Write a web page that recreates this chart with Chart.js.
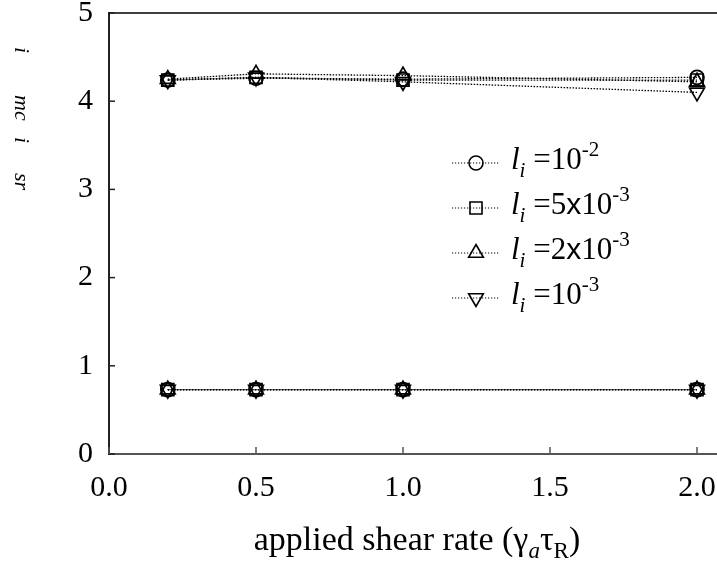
<!DOCTYPE html>
<html>
<head>
<meta charset="utf-8">
<script src="https://cdn.jsdelivr.net/npm/chart.js"></script>
<style>
  body { margin: 0; background: #fff; }
  canvas { display: block; }
</style>
</head>
<body>
<canvas id="shear-chart" width="717" height="573"></canvas>
<script>
// data //
const shearRates = [0.2, 0.5, 1.0, 2.0];

// upper branch, one per l_i
const upper1e2 = [4.24, 4.26, 4.25, 4.27];
const upper5e3 = [4.24, 4.27, 4.24, 4.24];
const upper2e3 = [4.25, 4.31, 4.29, 4.22];
const upper1e3 = [4.24, 4.27, 4.22, 4.10];

// lower branch
const lower1e2 = [0.73, 0.73, 0.73, 0.73];
const lower5e3 = [0.73, 0.73, 0.73, 0.73];
const lower2e3 = [0.73, 0.73, 0.73, 0.73];
const lower1e3 = [0.73, 0.73, 0.73, 0.73];

const legendMantissa = ['', '5', '2', ''];
const legendExponent = ['-2', '-3', '-3', '-3'];

const xTicks = [0.0, 0.5, 1.0, 1.5, 2.0];
const yTicks = [0, 1, 2, 3, 4, 5];

// styles //
const serif = 'Liberation Serif';
const markers = [
  { pointStyle: 'circle', radius: 7, rotation: 0 },
  { pointStyle: 'rect', radius: 8.5, rotation: 0 },
  { pointStyle: 'triangle', radius: 8.5, rotation: 0 },
  { pointStyle: 'triangle', radius: 8.5, rotation: 180 }
];
const dash = [1.5, 1.5];

function toPoints(values) {
  return values.map((v, i) => ({ x: shearRates[i], y: v }));
}

function makeDataset(values, m) {
  return {
    data: toPoints(values),
    borderColor: '#000',
    borderWidth: 1.3,
    borderDash: dash,
    pointStyle: m.pointStyle,
    pointRadius: m.radius,
    pointHoverRadius: m.radius,
    pointRotation: m.rotation,
    pointBorderColor: '#000',
    pointBackgroundColor: 'rgba(0,0,0,0)',
    pointBorderWidth: 1.7,
    tension: 0
  };
}

const upperSets = [upper1e2, upper5e3, upper2e3, upper1e3];
const lowerSets = [lower1e2, lower5e3, lower2e3, lower1e3];
const datasets = [];
upperSets.forEach((s, i) => datasets.push(makeDataset(s, markers[i])));
lowerSets.forEach((s, i) => datasets.push(makeDataset(s, markers[i])));

// helpers //
function drawRuns(ctx, x, y, runs) {
  runs.forEach(r => {
    ctx.font = r.font;
    ctx.fillText(r.text, x, y + (r.dy || 0));
    x += ctx.measureText(r.text).width;
  });
  return x;
}

function runsWidth(ctx, runs) {
  let w = 0;
  runs.forEach(r => { ctx.font = r.font; w += ctx.measureText(r.text).width; });
  return w;
}

function drawMarker(ctx, m, x, y) {
  const r = m.radius;
  ctx.beginPath();
  if (m.pointStyle === 'circle') {
    ctx.arc(x, y, r, 0, Math.PI * 2);
  } else if (m.pointStyle === 'rect') {
    const s = Math.SQRT1_2 * r;
    ctx.rect(x - s, y - s, 2 * s, 2 * s);
  } else {
    const rad = m.rotation * Math.PI / 180;
    for (let k = 0; k < 3; k++) {
      const a = rad + k * 2 * Math.PI / 3;
      const px = x + Math.sin(a) * r;
      const py = y - Math.cos(a) * r;
      if (k === 0) ctx.moveTo(px, py); else ctx.lineTo(px, py);
    }
    ctx.closePath();
  }
  ctx.stroke();
}

const decorations = {
  id: 'decorations',
  afterDraw(chart) {
    const { ctx, chartArea: a, scales } = chart;
    const x = scales.x, y = scales.y;
    ctx.save();

    // top frame
    ctx.strokeStyle = '#000';
    ctx.lineWidth = 1.5;
    ctx.beginPath();
    ctx.moveTo(a.left, a.top);
    ctx.lineTo(a.right, a.top);
    ctx.stroke();

    // inner ticks
    ctx.lineWidth = 1.5;
    ctx.strokeStyle = '#222';
    yTicks.forEach(v => {
      const py = y.getPixelForValue(v);
      ctx.beginPath();
      ctx.moveTo(a.left, py);
      ctx.lineTo(a.left + 6, py);
      ctx.stroke();
    });
    ctx.strokeStyle = '#555';
    xTicks.forEach(v => {
      const px = x.getPixelForValue(v);
      ctx.beginPath();
      ctx.moveTo(px, a.bottom);
      ctx.lineTo(px, a.bottom - 7);
      ctx.stroke();
    });

    // legend
    ctx.fillStyle = '#000';
    ctx.textBaseline = 'alphabetic';
    ctx.textAlign = 'left';
    markers.forEach((m, i) => {
      const ry = 163 + i * 45;
      ctx.strokeStyle = '#000';
      ctx.lineWidth = 1.2;
      ctx.setLineDash([1.2, 1.8]);
      ctx.beginPath();
      ctx.moveTo(452, ry);
      ctx.lineTo(500, ry);
      ctx.stroke();
      ctx.setLineDash([]);
      ctx.lineWidth = 1.6;
      drawMarker(ctx, m, 476, ry);

      const runs = [
        { text: 'l', font: 'italic 31px ' + serif },
        { text: 'i', font: 'italic 21px ' + serif, dy: 8 },
        { text: ' =', font: '31px ' + serif }
      ];
      if (legendMantissa[i]) {
        runs.push({ text: legendMantissa[i], font: '31px ' + serif });
        runs.push({ text: 'x', font: '30px Liberation Sans' });
      }
      runs.push({ text: '10', font: '31px ' + serif });
      runs.push({ text: legendExponent[i], font: '21px ' + serif, dy: -13 });
      drawRuns(ctx, 511, ry + 6, runs);
    });

    // x title
    const big = '34px ' + serif;
    const titleRuns = [
      { text: 'applied shear rate (γ', font: big },
      { text: 'a', font: 'italic 23px ' + serif, dy: 8 },
      { text: 'τ', font: big },
      { text: 'R', font: '23px ' + serif, dy: 8 },
      { text: ')', font: big }
    ];
    const tw = runsWidth(ctx, titleRuns);
    drawRuns(ctx, 417 - tw / 2, 550, titleRuns);

    // y title (rotated, reads downward)
    ctx.save();
    ctx.translate(15, 0);
    ctx.rotate(Math.PI / 2);
    ctx.font = 'italic 22px ' + serif;
    [['i', 47], ['mc', 95], ['i', 137], ['sr', 173]].forEach(p => {
      ctx.fillText(p[0], p[1], 0);
    });
    ctx.restore();

    ctx.restore();
  }
};

Chart.defaults.font.family = serif;
Chart.defaults.color = '#000';

new Chart(document.getElementById('shear-chart'), {
  type: 'line',
  data: { datasets: datasets },
  options: {
    responsive: false,
    devicePixelRatio: 1,
    animation: false,
    layout: { autoPadding: false, padding: { top: 13, right: 0, bottom: 0, left: 0 } },
    plugins: { legend: { display: false }, tooltip: { enabled: false } },
    scales: {
      x: {
        type: 'linear',
        min: 0,
        max: 2.068,
        afterBuildTicks: s => { s.ticks = xTicks.map(v => ({ value: v })); },
        afterFit: s => { s.height = 119; s.paddingLeft = 0; s.paddingRight = 0; },
        ticks: {
          padding: 16,
          maxRotation: 0,
          font: { size: 30, lineHeight: 1.2 },
          callback: v => Number(v).toFixed(1)
        },
        grid: { display: true, drawOnChartArea: false, drawTicks: false },
        border: { display: true, color: '#555', width: 2 }
      },
      y: {
        type: 'linear',
        min: 0,
        max: 5,
        afterBuildTicks: s => { s.ticks = yTicks.map(v => ({ value: v })); },
        afterFit: s => { s.width = 109; s.paddingTop = 0; s.paddingBottom = 0; },
        ticks: {
          padding: 16,
          font: { size: 30, lineHeight: 1.2 },
          callback: v => String(v)
        },
        grid: { display: true, drawOnChartArea: false, drawTicks: false },
        border: { display: true, color: '#222', width: 2 }
      }
    }
  },
  plugins: [decorations]
});
</script>
</body>
</html>
